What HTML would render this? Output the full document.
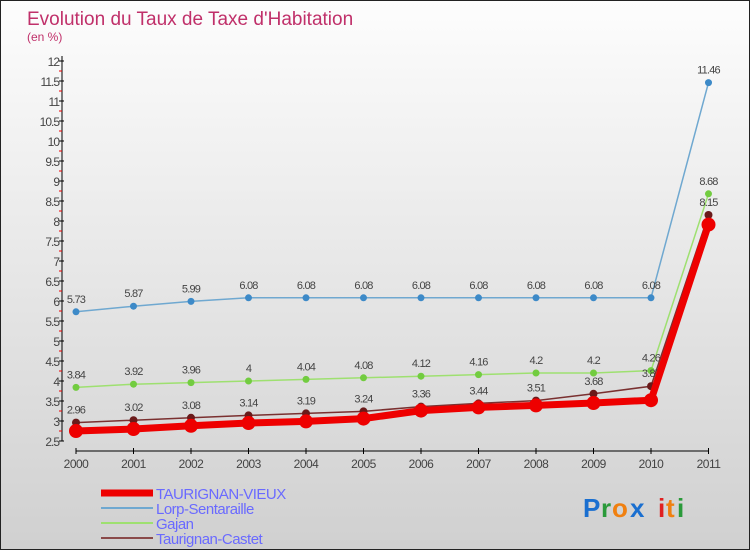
<!DOCTYPE html>
<html><head><meta charset="utf-8"><style>
body{margin:0;width:750px;height:550px;overflow:hidden;font-family:"Liberation Sans",sans-serif}
#c{position:absolute;left:0;top:0;width:748px;height:548px;border:1px solid #222;background:linear-gradient(#fdfdfd,#d0d0d0)}
</style></head><body>
<div id="c">
<svg id="s" width="750" height="550" xmlns="http://www.w3.org/2000/svg">
<text x="26" y="24" font-size="19" fill="#c0306a">Evolution du Taux de Taxe d'Habitation</text>
<text x="26" y="40" font-size="12" fill="#c0306a">(en %)</text>
<g id="axes"></g><g id="series"></g><g id="legend"></g>
<g font-size="26" font-weight="bold">
<text x="582" y="516" fill="#1a6fd0">P</text><text x="600" y="516" fill="#2a9a3a">r</text><text x="611" y="516" fill="#f08010">o</text><text x="629" y="516" fill="#1a6fd0">x</text><text x="657" y="516" fill="#e02020">i</text><text x="665" y="516" fill="#f08010">t</text><text x="676" y="516" fill="#2a9a3a">i</text>
</g>
</svg></div>
<script>
const years=["2000","2001","2002","2003","2004","2005","2006","2007","2008","2009","2010","2011"];
const taurignanVieux=[2.75,2.8,2.88,2.95,2.99,3.06,3.26,3.34,3.39,3.45,3.52,7.91];
const lorp=[5.73,5.87,5.99,6.08,6.08,6.08,6.08,6.08,6.08,6.08,6.08,11.46];
const gajan=[3.84,3.92,3.96,4,4.04,4.08,4.12,4.16,4.2,4.2,4.26,8.68];
const castet=[2.96,3.02,3.08,3.14,3.19,3.24,3.36,3.44,3.51,3.68,3.87,8.15];
const yTicks=[2.5,3,3.5,4,4.5,5,5.5,6,6.5,7,7.5,8,8.5,9,9.5,10,10.5,11,11.5,12];
const NS="http://www.w3.org/2000/svg";
const X=i=>75+i*57.5, Y=v=>60+(12-v)*40;
function mk(p,t,a){const e=document.createElementNS(NS,t);for(const k in a)e.setAttribute(k,a[k]);p.appendChild(e);return e;}
const ax=document.getElementById('axes');
let l=mk(ax,'line',{x1:61,y1:55,x2:61,y2:440,stroke:'#000'});

l=mk(ax,'line',{x1:75,y1:450,x2:708,y2:450,stroke:'#000'});

yTicks.forEach(v=>{const y=Y(v);
 mk(ax,'line',{x1:58,y1:y,x2:63,y2:y,stroke:'#000'});
 if(v<12)mk(ax,'line',{x1:58,y1:y-10,x2:61,y2:y-10,stroke:'#e00'});
 const t=mk(ax,'text',{x:58,y:y+5,'font-size':12,'text-anchor':'end',fill:'#444','letter-spacing':'-1'});t.textContent=v;
 });
years.forEach((yr,i)=>{mk(ax,'line',{x1:X(i),y1:447,x2:X(i),y2:453,stroke:'#000'});
 const t=mk(ax,'text',{x:X(i),y:467,'font-size':12,'text-anchor':'middle',fill:'#444','letter-spacing':'-0.5'});t.textContent=yr;
 });
const sg=document.getElementById('series');
function series(name,vals,col,w,r,dot,labs){
 const g=mk(sg,'g',{});
 mk(g,'polyline',{points:vals.map((v,i)=>X(i)+','+Y(v)).join(' '),fill:'none',stroke:col,'stroke-width':w,'stroke-linejoin':'round'});
 vals.forEach((v,i)=>{const c=mk(g,'circle',{cx:X(i),cy:Y(v),r:r,fill:dot});
  if(labs){const t=mk(g,'text',{x:X(i),y:Y(v)-9,'font-size':11,'text-anchor':'middle',fill:'#444','letter-spacing':'-0.8'});t.textContent=v;}});
}
series('lorp-sentaraille-series',lorp,'#6fa8d0',1.5,3.5,'#3d8ac8',true);
series('gajan-series',gajan,'#9ee070',1.5,3.5,'#72cc40',true);
series('taurignan-castet-series',castet,'#7a3030',1.5,4,'#6a1a1a',true);
series('taurignan-vieux-series',taurignanVieux,'#ee0000',7,7,'#ee0000',false);
const lg=document.getElementById('legend');
[['TAURIGNAN-VIEUX','#ee0000',7],['Lorp-Sentaraille','#6fa8d0',2],['Gajan','#9ee070',2],['Taurignan-Castet','#8a4a4a',2]].forEach((d,i)=>{
 const y=492+i*15;const g=mk(lg,'g',{});
 mk(g,'line',{x1:100,y1:y,x2:152,y2:y,stroke:d[1],'stroke-width':d[2]});
 const t=mk(g,'text',{x:155,y:y+6,'font-size':15,fill:'#6a6aff','letter-spacing':'-0.5'});t.textContent=d[0];});
</script></body></html>
